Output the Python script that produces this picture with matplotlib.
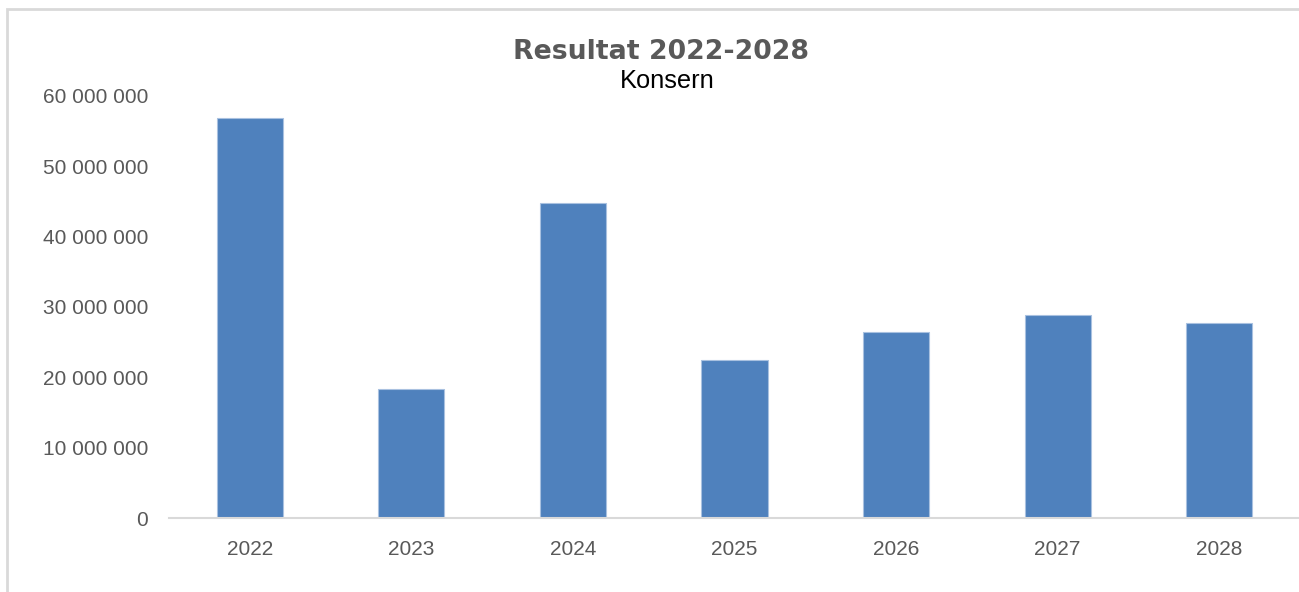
import matplotlib
matplotlib.use("Agg")
import matplotlib.pyplot as plt
from matplotlib.patches import Rectangle
from matplotlib.ticker import FuncFormatter

years = ["2022", "2023", "2024", "2025", "2026", "2027", "2028"]
resultat = [56_800_000, 18_300_000, 44_800_000, 22_400_000, 26_400_000, 28_900_000, 27_700_000]
y_ticks = [0, 10_000_000, 20_000_000, 30_000_000, 40_000_000, 50_000_000, 60_000_000]

plt.rcParams['font.family'] = ['Liberation Sans', 'DejaVu Sans']

W, H = 1299, 592
fig = plt.figure(figsize=(W / 100, H / 100), dpi=100)
fig.patch.set_facecolor("white")

# outer chart frame (cropped at right/bottom)
fig.patches.append(Rectangle((7 / W, -0.05), 1.2, (H - 9) / H + 0.05,
                             transform=fig.transFigure, fill=False,
                             edgecolor="#D9D9D9", linewidth=2))

ax = fig.add_axes([169 / W, (H - 518) / H, (1300 - 169) / W, (518 - 95.6) / H])
x = range(len(years))
ax.bar(x, resultat, width=0.41, color="#4F81BD", edgecolor="#A9C1E0", linewidth=0.8)
ax.set_xlim(-0.5, len(years) - 0.5)
ax.set_ylim(0, 60_000_000)
ax.set_yticks(y_ticks)
ax.yaxis.set_major_formatter(FuncFormatter(lambda v, p: f"{int(v):,}".replace(",", " ")))
ax.set_xticks(list(x))
ax.set_xticklabels(years)

for s in ["top", "right", "left"]:
    ax.spines[s].set_visible(False)
ax.spines["bottom"].set_color("#D9D9D9")
ax.spines["bottom"].set_linewidth(1.5)
ax.tick_params(axis="both", length=0, colors="#595959", labelsize=15)
ax.tick_params(axis="y", pad=15)
ax.tick_params(axis="x", pad=16)

fig.text(661 / W, 1 - 52 / H, "Resultat 2022-2028", ha="center", va="center",
         fontsize=19.3, fontweight="bold", color="#595959", family="DejaVu Sans")
fig.text(667 / W, 1 - 81.5 / H, "Konsern", ha="center", va="center",
         fontsize=18.3, color="black")

fig.savefig("out.png", dpi=100, facecolor="white")
